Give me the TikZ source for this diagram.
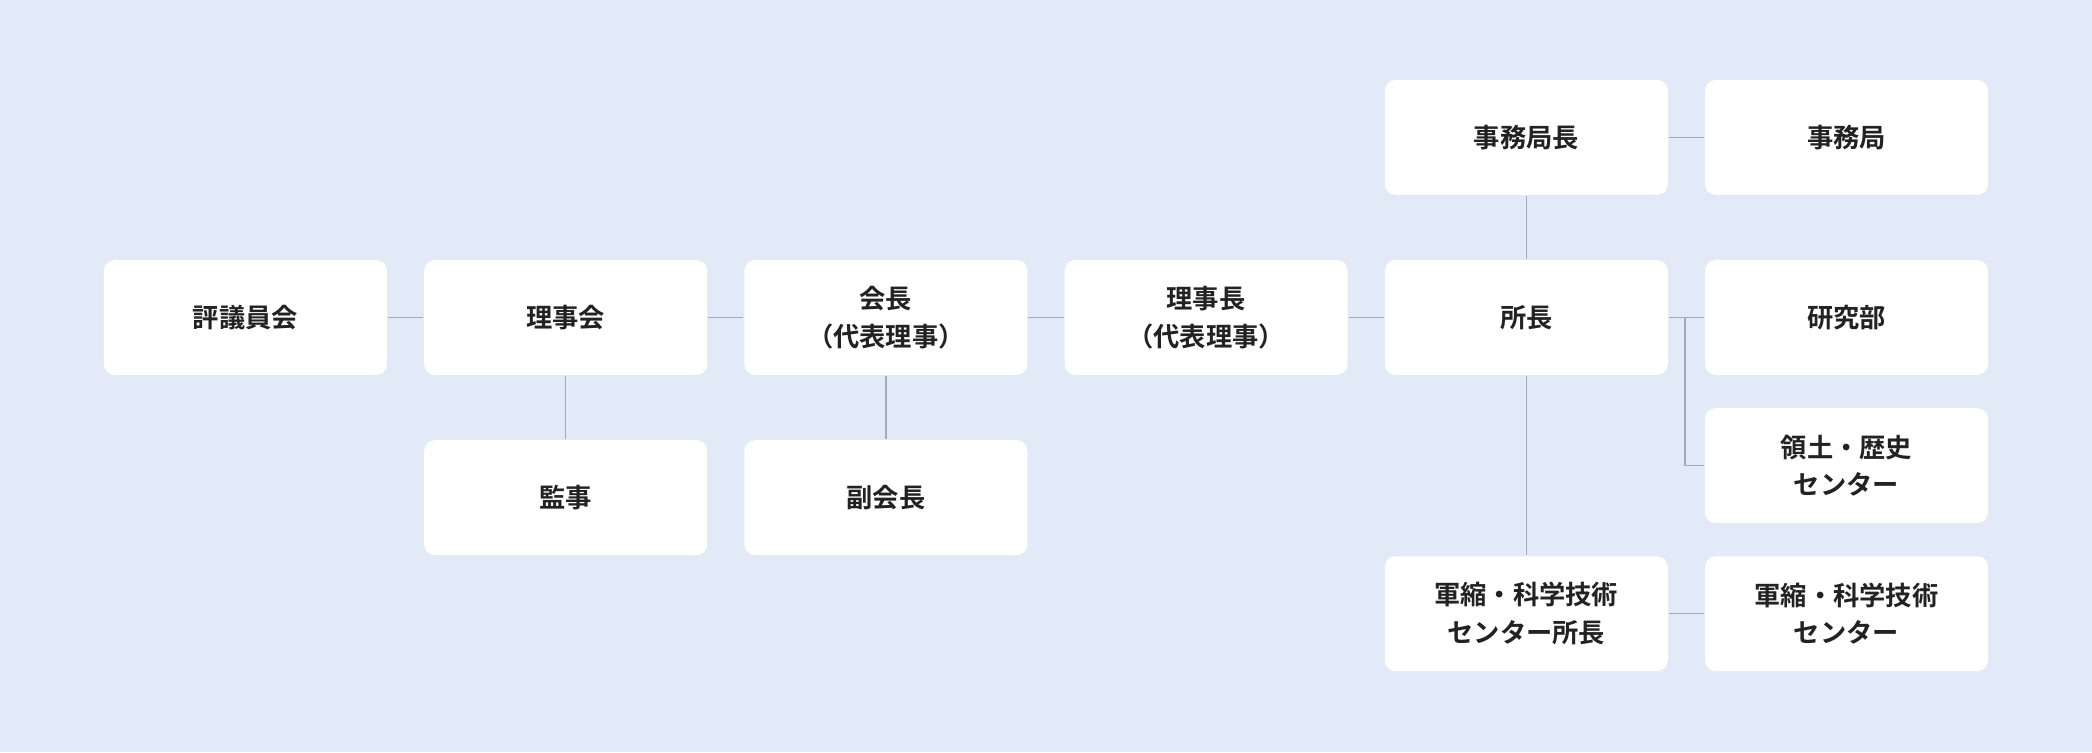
\documentclass[tikz,border=0pt]{standalone}
\usepackage{fontspec}
\newfontfamily\jp{Noto Sans CJK JP}[BoldFont={Noto Sans CJK JP Bold}]
\definecolor{bg}{HTML}{E1EAF6}
\definecolor{ln}{HTML}{A3ABB9}
\definecolor{tx}{HTML}{222222}
\begin{document}
\begin{tikzpicture}[x=0.01cm,y=-0.01cm,
  box/.style={fill=white,rounded corners=0.8mm,minimum width=2.12cm,minimum height=0.86cm,
    align=center,inner sep=0pt,font=\jp\bfseries\fontsize{5.6pt}{8pt}\selectfont,text=tx},
  conn/.style={draw=ln,line width=0.3pt}]
\fill[bg] (0,0) rectangle (1568,564);
\useasboundingbox (0,0) rectangle (1568,564);
\node[box] (hyo) at (184,238) {評議員会};
\node[box] (rij) at (424,238) {理事会};
\node[box] (kai) at (664,238) {会長\\（代表理事）};
\node[box] (rich) at (904,238) {理事長\\（代表理事）};
\node[box] (sho) at (1144,238) {所長};
\node[box] (kan) at (424,373) {監事};
\node[box] (fuku) at (664,373) {副会長};
\node[box] (jmc) at (1144,103) {事務局長};
\node[box] (jm) at (1384,103) {事務局};
\node[box] (ken) at (1384,238) {研究部};
\node[box] (ryo) at (1384,349) {領土・歴史\\センター};
\node[box] (gs) at (1144,460) {軍縮・科学技術\\センター所長};
\node[box] (gc) at (1384,460) {軍縮・科学技術\\センター};
\draw[conn] (hyo) -- (rij);
\draw[conn] (rij) -- (kai);
\draw[conn] (kai) -- (rich);
\draw[conn] (rich) -- (sho);
\draw[conn] (rij) -- (kan);
\draw[conn] (kai) -- (fuku);
\draw[conn] (jmc) -- (sho);
\draw[conn] (sho) -- (gs);
\draw[conn] (jmc) -- (jm);
\draw[conn] (sho) -- (ken);
\coordinate (br) at (1263,238);
\draw[conn] (br) |- (ryo.west);
\draw[conn] (gs) -- (gc);
\end{tikzpicture}
\end{document}
